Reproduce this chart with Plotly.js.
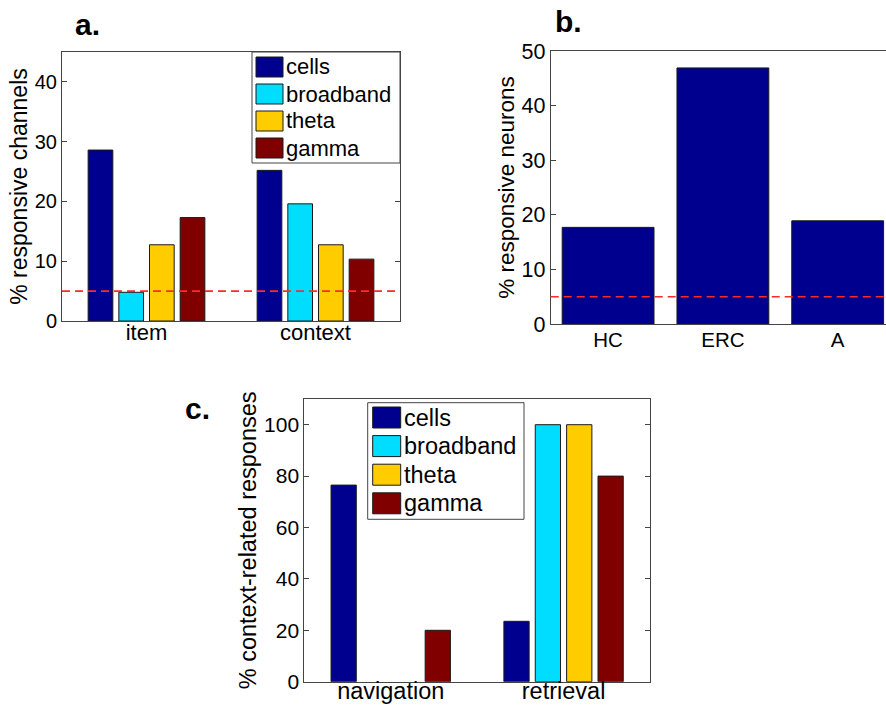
<!DOCTYPE html>
<html><head><meta charset="utf-8">
<script src="https://cdn.plot.ly/plotly-3.0.1.min.js"></script>
<style>html,body{margin:0;padding:0;background:#fff;overflow:hidden}#chart{width:886px;height:706px}</style>
</head><body><div id="chart"></div>
<script>
// ---------- data ----------
const seriesNames = ['cells', 'broadband', 'theta', 'gamma'];
const seriesColors = ['#00008F', '#00DDFF', '#FFCC00', '#800000'];

const catsA = ['item', 'context'];
const cellsA = [28.6, 25.2];
const broadbandA = [4.8, 19.6];
const thetaA = [12.75, 12.75];
const gammaA = [17.3, 10.35];

const catsB = ['HC', 'ERC', 'A'];
const neuronsB = [17.7, 46.9, 18.9];

const catsC = ['navigation', 'retrieval'];
const cellsC = [76.5, 23.5];
const broadbandC = [0, 100];
const thetaC = [0, 100];
const gammaC = [20, 80];

const chanceLevel = 5;
const ticksA = [0, 10, 20, 30, 40];
const ticksB = [0, 10, 20, 30, 40, 50];
const ticksC = [0, 20, 40, 60, 80, 100];

// ---------- helpers ----------
const W = 886, H = 706;
const px = v => v / W;
const py = v => 1 - v / H;
const FONT = '"Liberation Sans", Arial, Helvetica, sans-serif';
const AX = '#444';
const EDGE = '#1a1a1a';
// zero-height bars draw nothing (as in the original figure)
const edgeFor = vals => ({color: EDGE, width: vals.map(v => (v === 0 ? 0 : 1))});

const seriesA = [cellsA, broadbandA, thetaA, gammaA];
const seriesC = [cellsC, broadbandC, thetaC, gammaC];

const traces = [];
seriesA.forEach((vals, i) => traces.push({
  type: 'bar', x: catsA, y: vals, name: seriesNames[i], xaxis: 'x', yaxis: 'y',
  marker: {color: seriesColors[i], line: edgeFor(vals)}, showlegend: false
}));
traces.push({
  type: 'bar', x: catsB, y: neuronsB, name: 'neurons', xaxis: 'x2', yaxis: 'y2', width: 0.8,
  marker: {color: seriesColors[0], line: edgeFor(neuronsB)}, showlegend: false
});
seriesC.forEach((vals, i) => traces.push({
  type: 'bar', x: catsC, y: vals, name: seriesNames[i], xaxis: 'x3', yaxis: 'y3',
  marker: {color: seriesColors[i], line: edgeFor(vals)}, showlegend: false
}));

function xAx(dom, range, size, anchor, shift) {
  return {domain: dom, anchor: anchor, type: 'category', range: range, showline: true, mirror: true,
    linecolor: AX, linewidth: 1, ticks: '', showgrid: false, zeroline: false, ticklabelstandoff: shift,
    tickfont: {family: FONT, size: size, color: '#000'}, fixedrange: true};
}
function yAx(dom, range, tv, size, title, tsize, mirror, anchor) {
  return {domain: dom, anchor: anchor, range: range, tickvals: tv, ticks: 'inside', ticklen: 5, tickwidth: 1,
    tickcolor: AX, showline: true, mirror: mirror, linecolor: AX, linewidth: 1, showgrid: false, zeroline: false,
    tickfont: {family: FONT, size: size, color: '#000'},
    title: {text: title, font: {family: FONT, size: tsize, color: '#000'}, standoff: 0}, fixedrange: true};
}

const shapes = [];
const annotations = [];

// chance level lines
[['x domain', 'y'], ['x2 domain', 'y2']].forEach(([xr, yr]) => shapes.push({
  type: 'line', xref: xr, yref: yr, x0: 0, x1: 1, y0: chanceLevel, y1: chanceLevel,
  line: {color: '#FF2A2A', width: 1.6, dash: '8px,5px'}, layer: 'above'
}));

// custom legends (large swatches, like the original figure)
function legend(box, swX, swW, swH, row0, step, txtX, fs) {
  shapes.push({type: 'rect', xref: 'paper', yref: 'paper', x0: px(box[0]), x1: px(box[2]),
    y0: py(box[1]), y1: py(box[3]), line: {color: AX, width: 1}, fillcolor: 'rgba(255,255,255,1)', layer: 'above'});
  seriesNames.forEach((nm, i) => {
    const cy = row0 + i * step;
    shapes.push({type: 'rect', xref: 'paper', yref: 'paper', x0: px(swX), x1: px(swX + swW),
      y0: py(cy - swH / 2), y1: py(cy + swH / 2), line: {color: EDGE, width: 1},
      fillcolor: seriesColors[i], layer: 'above'});
    annotations.push({xref: 'paper', yref: 'paper', x: px(txtX), y: py(cy), xanchor: 'left', yanchor: 'middle',
      text: nm, showarrow: false, font: {family: FONT, size: fs, color: '#000'}});
  });
}
legend([252, 52, 400, 163], 256, 27, 20, 67, 27, 284, 22);
legend([367.7, 402.7, 524, 519.3], 372.7, 28, 21, 417.5, 28.6, 402, 23.5);

// panel letters
[['a.', 73, 24], ['b.', 553, 22], ['c.', 183, 409]].forEach(([t, x, y]) => annotations.push({
  xref: 'paper', yref: 'paper', x: px(x), y: py(y), xanchor: 'left', yanchor: 'middle', text: '<b>' + t + '</b>',
  showarrow: false, font: {family: FONT, size: 30, color: '#000'}
}));

const layout = {
  width: W, height: H, margin: {l: 0, r: 0, t: 0, b: 0}, paper_bgcolor: '#fff', plot_bgcolor: '#fff',
  barmode: 'group', bargap: 0.274, bargroupgap: 0.195, showlegend: false,
  font: {family: FONT, color: '#000'},
  xaxis: xAx([px(62), px(400)], [-0.5, 1.5], 22, 'y', -8),
  yaxis: yAx([py(321), py(52)], [0, 45], ticksA, 20, '% responsive channels', 23, 'ticks', 'x'),
  xaxis2: xAx([px(550.7), 1], [-0.5, 2.421], 20.5, 'y2', -3),
  yaxis2: yAx([py(324), py(51)], [0, 50], ticksB, 21.5, '% responsive neurons', 22.5, false, 'x2'),
  xaxis3: xAx([px(304.3), px(650)], [-0.5, 1.5], 23.5, 'y3', -12),
  yaxis3: yAx([py(681.7), py(399)], [0, 110], ticksC, 21, '% context-related responses', 23.5, 'ticks', 'x3'),
  shapes: shapes, annotations: annotations
};

Plotly.newPlot('chart', traces, layout, {displayModeBar: false, staticPlot: true});
</script>
</body></html>
